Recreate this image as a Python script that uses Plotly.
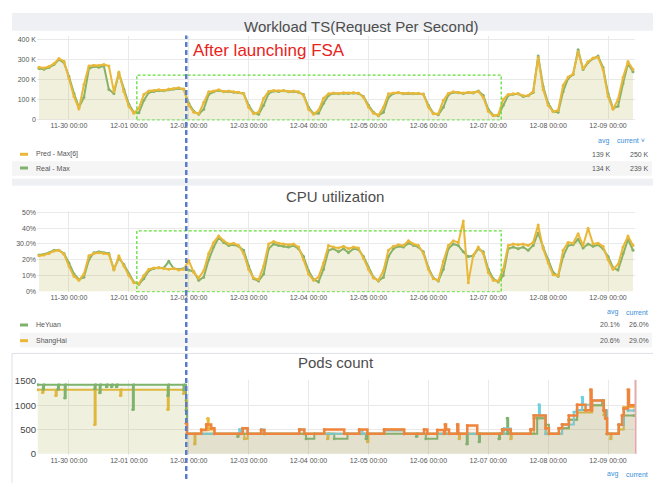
import pandas as pd
import plotly.graph_objects as go

# ---------------- data ----------------
START = pd.Timestamp("2022-11-29 12:00")
STEP_H = 2  # sampling step of the RPS / CPU series (hours)

RPS_PRED_K = [262, 258, 265, 280, 305, 292, 205, 115, 52, 175,
              268, 272, 270, 275, 268, 140, 238, 140, 65, 30,
              55, 125, 142, 145, 148, 146, 152, 155, 158, 150,
              70, 35, 28, 85, 138, 142, 148, 140, 142, 138,
              136, 128, 60, 28, 35, 105, 140, 145, 143, 145,
              140, 142, 138, 120, 50, 25, 45, 105, 128, 132,
              130, 133, 132, 134, 132, 110, 62, 30, 20, 60,
              128, 132, 135, 130, 132, 130, 131, 125, 62, 27,
              28, 95, 130, 138, 135, 132, 136, 134, 140, 110,
              40, 18, 22, 100, 125, 128, 130, 118, 120, 140,
              310, 150, 70, 38, 45, 170, 212, 228, 340, 255,
              290, 308, 312, 250, 115, 50, 100, 210, 290, 250]
RPS_REAL_K = [255, 252, 260, 275, 300, 285, 215, 130, 60, 110,
              255, 265, 262, 268, 150, 130, 232, 150, 75, 35,
              32, 95, 135, 140, 145, 143, 148, 152, 155, 152,
              80, 40, 25, 50, 125, 138, 145, 138, 140, 136,
              134, 130, 70, 32, 25, 70, 130, 142, 140, 143,
              138, 140, 136, 125, 60, 28, 30, 80, 120, 130,
              128, 131, 130, 132, 130, 115, 70, 35, 18, 35,
              110, 130, 133, 128, 130, 128, 129, 127, 70, 30,
              22, 60, 122, 136, 133, 130, 134, 132, 142, 120,
              50, 20, 18, 70, 120, 126, 128, 115, 118, 135,
              318, 165, 80, 40, 35, 140, 205, 225, 350, 250,
              285, 305, 318, 260, 130, 55, 65, 180, 280, 239]

CPU_SHANGHAI = [22.5, 23.0, 24.0, 25.5, 26.0, 23.5, 16.0, 9.5, 7.0, 11.0,
                22.5, 24.0, 24.5, 24.0, 23.5, 13.5, 22.5, 16.0, 10.0, 5.5,
                5.0, 10.0, 14.0, 14.8, 15.0, 14.5, 14.0, 14.5, 13.5, 14.0,
                19.5, 12.0, 8.5, 13.0, 24.0, 31.0, 35.0, 32.0, 30.0, 30.5,
                29.0, 24.0, 14.0, 8.5, 7.5, 16.0, 30.0, 31.5, 30.5, 30.0,
                29.5, 30.0, 28.0, 20.0, 11.0, 7.0, 9.0, 18.0, 29.0, 28.0,
                27.5, 28.5, 27.0, 28.0, 27.5, 21.0, 14.0, 8.5, 7.0, 13.0,
                26.0, 28.5, 29.5, 29.0, 32.0, 30.0, 29.0, 24.0, 14.0, 8.0,
                7.0, 19.0, 29.0, 32.0, 31.0, 44.5, 5.5, 23.0, 28.0, 24.0,
                12.0, 7.0, 6.5, 14.0, 29.0, 30.0, 29.5, 30.0, 29.0, 31.0,
                42.0, 27.0, 18.0, 10.5, 10.0, 26.0, 31.0, 30.5, 36.5, 29.0,
                40.0, 30.0, 30.5, 28.5, 20.0, 14.0, 17.0, 28.0, 35.0, 29.0]
CPU_HEYUAN = [23.0, 23.5, 24.5, 26.0, 26.0, 24.0, 18.0, 11.0, 7.5, 9.0,
              20.0, 24.5, 25.0, 24.5, 24.0, 14.0, 21.0, 17.0, 11.0, 6.0,
              4.5, 8.0, 13.0, 14.5, 15.0, 14.8, 19.0, 14.5, 14.0, 14.5,
              13.5, 12.5, 7.0, 9.0, 20.0, 28.0, 34.0, 31.0, 29.0, 29.5,
              28.5, 26.0, 16.0, 8.0, 6.5, 11.0, 27.0, 30.0, 29.0, 28.5,
              28.0, 29.0, 27.0, 22.0, 13.0, 7.5, 6.0, 14.0, 26.0, 27.0,
              25.0, 27.0, 24.5, 27.0, 26.5, 22.0, 15.0, 9.0, 6.5, 9.0,
              22.0, 27.0, 28.5, 28.0, 30.5, 29.0, 28.0, 25.0, 15.0, 8.5,
              6.5, 14.0, 27.0, 30.0, 29.0, 25.0, 22.0, 22.5, 27.0, 25.0,
              14.0, 8.0, 6.0, 10.0, 27.0, 28.0, 27.0, 28.0, 26.0, 29.0,
              37.0, 28.0, 20.0, 12.0, 9.5, 22.0, 29.0, 29.5, 33.0, 27.5,
              30.0, 28.5, 29.5, 27.0, 22.0, 15.0, 13.5, 24.0, 33.0, 26.0]

# Pods count: step series given as change points (hours after START, value)
POD_GREEN_H = [-0.5, 1.6, 2.0, 7.6, 8.0, 10.3, 10.7, 22.3, 22.7, 24.3, 24.7, 27.0, 27.4,
               29.0, 29.4, 31.0, 31.4, 37.6, 38.0, 51.6, 52.0, 57.9, 58.3, 58.9, 59.3,
               79.6, 80.0, 107.0, 110.3, 118.3, 123.6, 131.0, 131.5, 151.2, 151.6,
               155.0, 159.6, 171.4, 171.8, 176.3, 176.7, 184.3, 184.7, 187.6, 188.0,
               199.6, 203.0, 204.3, 208.3, 212.3, 215.6, 221.6, 225.6, 226.3, 227.0,
               227.6, 232.3, 234.3, 238.4]
POD_GREEN_V = [1420, 1330, 1420, 1330, 1420, 1150, 1420, 1340, 1420, 1257, 1420, 1380, 1420,
               1380, 1420, 1380, 1420, 910, 1420, 1200, 1420, 1320, 1420, 900, 410,
               355, 410, 309, 410, 309, 410, 309, 410, 355, 410,
               309, 410, 200, 410, 250, 410, 309, 410, 730, 410,
               730, 600, 410, 525, 700, 900, 1000, 1100, 894, 730,
               410, 597, 790, 790]
POD_YELLOW_H = [-0.5, 1.4, 1.8, 6.7, 7.1, 22.3, 22.7, 32.6, 33.0, 51.6, 52.0, 57.9, 58.3,
                58.9, 59.3, 62.3, 62.7, 65.0, 67.6, 68.0, 70.3, 82.3, 83.6, 115.6, 116.0,
                131.6, 132.0, 138.3, 146.3, 168.3, 168.7, 184.3, 184.7, 185.6, 189.0,
                189.4, 198.3, 203.0, 209.6, 212.3, 215.6, 221.6, 226.3, 227.6, 229.0,
                229.4, 232.3, 234.3, 238.4]
POD_YELLOW_V = [1320, 1260, 1320, 1200, 1320, 605, 1320, 1200, 1320, 912, 1320, 1240, 1320,
                1100, 410, 200, 410, 500, 727, 500, 410, 309, 410, 309, 410,
                250, 410, 500, 410, 309, 410, 309, 410, 500, 309,
                410, 730, 410, 525, 700, 850, 1000, 800, 410, 309,
                410, 500, 961, 961]
POD_CYAN_H = [58.9, 59.3, 80.3, 80.8, 81.6, 83.6, 89.0, 90.3, 104.3, 106.3, 128.3, 129.6,
              138.3, 146.3, 186.3, 189.0, 197.0, 198.3, 200.3, 200.7, 203.0, 209.6,
              214.3, 215.6, 217.6, 218.0, 221.6, 226.3, 227.6, 232.3, 234.3, 236.0, 238.4]
POD_CYAN_V = [500, 410, 500, 410, 525, 410, 500, 410, 500, 410, 480, 410,
              480, 410, 520, 410, 500, 790, 1009, 790, 410, 605,
              860, 900, 1163, 1010, 1096, 894, 410, 597, 930, 893, 893]
POD_ORANGE_H = [58.9, 59.3, 65.0, 67.0, 69.0, 70.3, 81.6, 83.6, 89.0, 90.3, 104.3, 106.3,
                114.3, 122.3, 128.3, 131.6, 138.3, 146.3, 154.3, 155.6, 159.6, 162.3,
                162.7, 163.1, 164.3, 167.6, 168.0, 171.6, 175.6, 185.6, 189.0, 197.0,
                198.3, 203.0, 204.3, 208.3, 209.6, 212.3, 215.6, 219.0, 221.0, 221.4,
                221.6, 226.3, 227.0, 227.6, 232.3, 233.6, 234.3, 236.0, 236.4, 238.4]
POD_ORANGE_V = [630, 410, 490, 605, 525, 410, 525, 410, 490, 410, 500, 410,
                500, 410, 500, 410, 500, 410, 500, 410, 490, 410,
                605, 500, 410, 605, 410, 580, 410, 500, 410, 500,
                790, 525, 410, 525, 605, 790, 1010, 894, 1318, 894,
                1096, 894, 730, 410, 597, 790, 930, 1318, 1000, 1000]

X_RANGE = ["2022-11-29 11:12", "2022-12-09 10:48"]
X_TICKS = ["2022-11-30", "2022-12-01", "2022-12-02", "2022-12-03", "2022-12-04",
           "2022-12-05", "2022-12-06", "2022-12-07", "2022-12-08", "2022-12-09"]
RPS_TICKS = [0, 100000, 200000, 300000, 400000]
RPS_TICK_TEXT = ["0", "100 K", "200 K", "300 K", "400 K"]
CPU_TICKS = [0, 10, 20, 30, 40, 50]
CPU_TICK_TEXT = ["0%", "10%", "20%", "30.0%", "40%", "50%"]
POD_TICKS = [0, 500, 1000, 1500]

LEGEND_RPS = [("Pred - Max[6]", "139 K", "250 K"), ("Real - Max", "134 K", "239 K")]
LEGEND_CPU = [("HeYuan", "20.1%", "26.0%"), ("ShangHai", "20.6%", "29.0%")]

LAUNCH_TIME = "2022-12-01 23:00"
FSA_WINDOW = ("2022-12-01 03:12", "2022-12-07 05:12")
RPS_BOX_TOP = 222000
CPU_BOX_TOP = 38.3

# ---------------- styling ----------------
# The page body keeps its default 8px margin, so the figure is drawn 8px smaller
# and every page-pixel position is shifted by that margin.
PAGE_W, PAGE_H = 661, 483
OFF = 8
W, H = PAGE_W - OFF, PAGE_H - OFF
YELLOW = "#EAB839"
GREEN = "#7EB26D"
ORANGE = "#EF843C"
CYAN = "#6ED0E0"
LINK = "#3b8fd9"
TXT = "#555555"
FONT = "Liberation Sans, Arial, sans-serif"


def px(x):
    return (x - OFF) / W


def py(y):
    return 1 - (y - OFF) / H


def rgba(hexc, a):
    h = hexc.lstrip("#")
    return "rgba(%d,%d,%d,%s)" % (int(h[0:2], 16), int(h[2:4], 16), int(h[4:6], 16), a)


grid_times = [START + pd.Timedelta(hours=STEP_H * i) for i in range(len(RPS_PRED_K))]


def hrs(hours):
    return [START + pd.Timedelta(hours=h) for h in hours]


fig = go.Figure()


def add_line(x, y, color, xa, ya, shape="linear", width=2):
    fig.add_trace(go.Scatter(
        x=x, y=y, mode="lines+markers", line=dict(color=color, width=width, shape=shape),
        marker=dict(size=3, color=color), fill="tozeroy", fillcolor=rgba(color, 0.1),
        xaxis=xa, yaxis=ya, showlegend=False, hoverinfo="skip"))


add_line(grid_times, [v * 1000 for v in RPS_REAL_K], GREEN, "x", "y")
add_line(grid_times, [v * 1000 for v in RPS_PRED_K], YELLOW, "x", "y")
add_line(grid_times, CPU_HEYUAN, GREEN, "x2", "y2")
add_line(grid_times, CPU_SHANGHAI, YELLOW, "x2", "y2")
add_line(hrs(POD_YELLOW_H), POD_YELLOW_V, YELLOW, "x3", "y3", "hv")
add_line(hrs(POD_GREEN_H), POD_GREEN_V, GREEN, "x3", "y3", "hv")
add_line(hrs(POD_CYAN_H), POD_CYAN_V, CYAN, "x3", "y3", "hv")
add_line(hrs(POD_ORANGE_H), POD_ORANGE_V, ORANGE, "x3", "y3", "hv", width=2.5)

x_dom = [px(37), px(635)]
xcommon = dict(type="date", range=X_RANGE, domain=x_dom, tickmode="array", tickvals=X_TICKS,
               tickformat="%m-%d %H:%M", tickfont=dict(size=7, color=TXT, family=FONT),
               showgrid=True, gridcolor="#e9e9e9", gridwidth=1, zeroline=False,
               showline=False, ticks="", fixedrange=True)
ycommon = dict(showgrid=True, gridcolor="#e9e9e9", gridwidth=1, zeroline=False,
               showline=False, ticks="", tickmode="array", fixedrange=True)

fig.update_layout(
    width=W, height=H, autosize=False,
    margin=dict(l=0, r=0, t=0, b=0),
    paper_bgcolor="white", plot_bgcolor="white",
    font=dict(family=FONT, color=TXT),
    xaxis=dict(anchor="y", **xcommon),
    xaxis2=dict(anchor="y2", **xcommon),
    xaxis3=dict(anchor="x3".replace("x", "y"), **xcommon),
    yaxis=dict(anchor="x", domain=[py(117.5), py(31.2)], range=[-6000, 420000],
               tickvals=RPS_TICKS, ticktext=RPS_TICK_TEXT,
               tickfont=dict(size=7, color=TXT, family=FONT), **ycommon),
    yaxis2=dict(anchor="x2", domain=[py(292.7), py(209.6)], range=[-0.6, 51],
                tickvals=CPU_TICKS, ticktext=CPU_TICK_TEXT,
                tickfont=dict(size=7, color=TXT, family=FONT), **ycommon),
    yaxis3=dict(anchor="x3", domain=[py(458.3), py(382.0)], range=[-20, 1520],
                tickvals=POD_TICKS, ticktext=[str(v) for v in POD_TICKS],
                tickfont=dict(size=9.5, color="#444444", family=FONT), **ycommon),
)

shapes = []


def prect(x0, y0, x1, y1, fill, line=None):
    shapes.append(dict(type="rect", xref="paper", yref="paper", x0=px(x0), x1=px(x1),
                       y0=py(y1), y1=py(y0), fillcolor=fill,
                       line=dict(width=1 if line else 0, color=line or "rgba(0,0,0,0)"),
                       layer="below"))


# panel chrome
prect(12, 8, 658, 26, "#eef0f4")
prect(12, 159, 652, 174, "#f5f5f5")
prect(12, 177, 661, 184, "#eef0f4")
prect(20, 334, 652, 349, "#f5f5f5")
prect(12, 355, 668, 495, "rgba(0,0,0,0)", "#dde0e6")

# legend swatches
for yy, col in [(152, YELLOW), (166, GREEN), (326, GREEN), (342, YELLOW)]:
    shapes.append(dict(type="line", xref="paper", yref="paper", x0=px(20), x1=px(28),
                       y0=py(yy), y1=py(yy), line=dict(color=col, width=3)))

# right edge marker in pods panel
shapes.append(dict(type="line", xref="paper", yref="paper", x0=px(635.5), x1=px(635.5),
                   y0=py(457.3), y1=py(382), line=dict(color="#e3a9a9", width=2)))

# FSA window boxes
shapes.append(dict(type="rect", xref="x", yref="y", x0=FSA_WINDOW[0], x1=FSA_WINDOW[1],
                   y0=-4500, y1=RPS_BOX_TOP, line=dict(color="#62dd3a", width=1.3, dash="3px,2px"),
                   fillcolor="rgba(0,0,0,0)", layer="above"))
shapes.append(dict(type="rect", xref="x2", yref="y2", x0=FSA_WINDOW[0], x1=FSA_WINDOW[1],
                   y0=-0.4, y1=CPU_BOX_TOP, line=dict(color="#62dd3a", width=1.3, dash="3px,2px"),
                   fillcolor="rgba(0,0,0,0)", layer="above"))

# launch line
shapes.append(dict(type="line", xref="x", yref="paper", x0=LAUNCH_TIME, x1=LAUNCH_TIME,
                   y0=py(483), y1=py(31), line=dict(color="#5a7ec6", width=2.5, dash="5px,3px"),
                   layer="above"))

fig.update_layout(shapes=shapes)

ann = []


def text(x, y, s, size=7, color=TXT, anchor="left", **kw):
    ann.append(dict(xref="paper", yref="paper", x=px(x), y=py(y), text=s, showarrow=False,
                    xanchor=anchor, yanchor="middle", font=dict(size=size, color=color, family=FONT),
                    **kw))


text(361.5, 22, "Workload TS(Request Per Second)", size=15, color="#4d4d4d", anchor="center")
text(335, 195, "CPU utilization", size=15, color="#4d4d4d", anchor="center")
text(336, 364, "Pods count", size=15, color="#4d4d4d", anchor="center")
text(191, 46, "After launching FSA", size=17, color="#e8231c")

# legend panel 1
text(603, 138, "avg", color=LINK, anchor="center")
text(615, 138, "current \u02c5", color=LINK)
for (name, avg, cur), yy in zip(LEGEND_RPS, [152, 166]):
    text(34, yy, name)
    text(613, yy, avg, anchor="right")
    text(651, yy, cur, anchor="right")

# legend panel 2
text(612, 313, "avg", color=LINK, anchor="center")
text(624, 313, "current", color=LINK)
for (name, avg, cur), yy in zip(LEGEND_CPU, [326, 342]):
    text(34, yy, name)
    text(622, yy, avg, anchor="right")
    text(651, yy, cur, anchor="right")

# legend panel 3 header
text(612, 478, "avg", color=LINK, anchor="center")
text(624, 478, "current", color=LINK)

fig.update_layout(annotations=ann)

fig.write_html("out.html")
